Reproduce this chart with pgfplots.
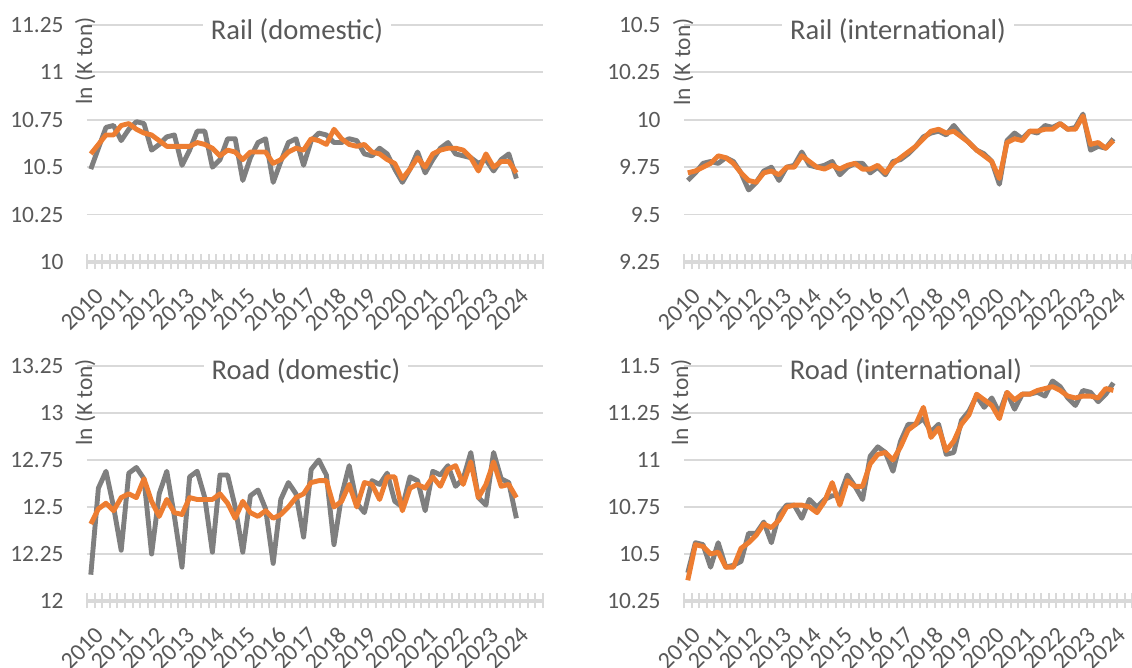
\documentclass[border=0pt]{standalone}
\usepackage{pgfplots}
\pgfplotsset{compat=1.18}
\usepackage{pgfplotstable}
\usepackage{fontspec}
\setmainfont{Carlito}
\definecolor{txt}{HTML}{595959}
\definecolor{gridc}{HTML}{D9D9D9}
\definecolor{greyl}{HTML}{7F7F7F}
\definecolor{orl}{HTML}{ED7D31}

% i = quarter index (0 = 2010Q1), o = original, s = seasonally adjusted
\pgfplotstableread{
i o s
0 10.49 10.57
1 10.60 10.62
2 10.71 10.67
3 10.72 10.67
4 10.64 10.72
5 10.70 10.73
6 10.74 10.70
7 10.73 10.68
8 10.59 10.67
9 10.62 10.64
10 10.66 10.61
11 10.67 10.61
12 10.51 10.61
13 10.59 10.61
14 10.69 10.63
15 10.69 10.62
16 10.50 10.60
17 10.54 10.56
18 10.65 10.59
19 10.65 10.58
20 10.43 10.54
21 10.55 10.58
22 10.63 10.58
23 10.65 10.58
24 10.42 10.52
25 10.53 10.54
26 10.63 10.58
27 10.65 10.60
28 10.51 10.59
29 10.64 10.65
30 10.68 10.64
31 10.67 10.62
32 10.63 10.70
33 10.63 10.65
34 10.65 10.62
35 10.64 10.61
36 10.57 10.62
37 10.56 10.58
38 10.60 10.57
39 10.57 10.54
40 10.49 10.52
41 10.42 10.44
42 10.49 10.49
43 10.58 10.55
44 10.47 10.50
45 10.54 10.57
46 10.60 10.59
47 10.63 10.60
48 10.57 10.60
49 10.56 10.59
50 10.55 10.55
51 10.52 10.48
52 10.54 10.57
53 10.48 10.50
54 10.54 10.53
55 10.57 10.53
56 10.44 10.47
}\RailDom

\pgfplotstableread{
i o s
0 9.68 9.72
1 9.72 9.73
2 9.77 9.75
3 9.78 9.77
4 9.77 9.81
5 9.80 9.80
6 9.78 9.77
7 9.72 9.72
8 9.63 9.68
9 9.67 9.67
10 9.73 9.72
11 9.75 9.73
12 9.68 9.71
13 9.75 9.75
14 9.76 9.75
15 9.83 9.81
16 9.76 9.78
17 9.75 9.75
18 9.76 9.74
19 9.78 9.76
20 9.71 9.74
21 9.75 9.76
22 9.77 9.77
23 9.77 9.74
24 9.72 9.74
25 9.75 9.76
26 9.71 9.72
27 9.78 9.77
28 9.79 9.80
29 9.82 9.83
30 9.86 9.86
31 9.91 9.90
32 9.93 9.94
33 9.94 9.95
34 9.92 9.93
35 9.97 9.94
36 9.92 9.91
37 9.88 9.88
38 9.84 9.84
39 9.82 9.81
40 9.78 9.78
41 9.66 9.69
42 9.89 9.88
43 9.93 9.90
44 9.90 9.89
45 9.94 9.94
46 9.93 9.94
47 9.97 9.95
48 9.96 9.95
49 9.98 9.98
50 9.95 9.95
51 9.96 9.95
52 10.03 10.02
53 9.84 9.87
54 9.86 9.88
55 9.85 9.85
56 9.90 9.89
}\RailInt

\pgfplotstableread{
i o s
0 12.14 12.41
1 12.60 12.49
2 12.69 12.52
3 12.50 12.48
4 12.27 12.55
5 12.68 12.57
6 12.71 12.55
7 12.65 12.65
8 12.25 12.53
9 12.57 12.45
10 12.69 12.54
11 12.45 12.47
12 12.18 12.46
13 12.66 12.55
14 12.69 12.54
15 12.55 12.54
16 12.26 12.54
17 12.67 12.57
18 12.67 12.52
19 12.50 12.44
20 12.26 12.53
21 12.56 12.47
22 12.59 12.45
23 12.49 12.48
24 12.20 12.44
25 12.54 12.46
26 12.63 12.50
27 12.57 12.55
28 12.34 12.57
29 12.70 12.63
30 12.75 12.64
31 12.67 12.64
32 12.30 12.50
33 12.56 12.53
34 12.72 12.62
35 12.52 12.50
36 12.47 12.63
37 12.64 12.62
38 12.62 12.54
39 12.68 12.66
40 12.53 12.66
41 12.50 12.48
42 12.66 12.60
43 12.64 12.62
44 12.48 12.60
45 12.69 12.66
46 12.67 12.61
47 12.72 12.70
48 12.61 12.72
49 12.65 12.62
50 12.79 12.74
51 12.55 12.55
52 12.51 12.62
53 12.79 12.74
54 12.65 12.61
55 12.63 12.62
56 12.44 12.55
}\RoadDom

\pgfplotstableread{
i o s
0 10.40 10.36
1 10.56 10.55
2 10.55 10.54
3 10.43 10.50
4 10.56 10.51
5 10.43 10.43
6 10.44 10.43
7 10.46 10.53
8 10.61 10.56
9 10.61 10.60
10 10.67 10.66
11 10.56 10.64
12 10.71 10.68
13 10.76 10.75
14 10.76 10.76
15 10.69 10.76
16 10.79 10.75
17 10.75 10.72
18 10.79 10.78
19 10.81 10.88
20 10.81 10.76
21 10.92 10.89
22 10.86 10.86
23 10.79 10.86
24 11.02 10.98
25 11.07 11.03
26 11.04 11.04
27 10.94 11.00
28 11.10 11.07
29 11.19 11.16
30 11.19 11.19
31 11.22 11.28
32 11.15 11.12
33 11.19 11.17
34 11.03 11.05
35 11.04 11.10
36 11.21 11.19
37 11.26 11.24
38 11.34 11.35
39 11.28 11.32
40 11.33 11.29
41 11.25 11.22
42 11.36 11.36
43 11.27 11.32
44 11.35 11.35
45 11.35 11.35
46 11.36 11.37
47 11.34 11.38
48 11.42 11.39
49 11.39 11.37
50 11.33 11.34
51 11.29 11.33
52 11.37 11.34
53 11.36 11.34
54 11.31 11.33
55 11.35 11.38
56 11.41 11.37
}\RoadInt

\pgfplotsset{
  panel/.style={
    scale only axis, width=228pt, anchor=south west,
    xmin=-0.5, xmax=59.5,
    axis x line*=bottom, axis y line*=left,
    x axis line style={draw=gridc, line width=2pt},
    y axis line style={draw=none},
    xtick={0,4,...,56},
    xticklabels={2010,2011,2012,2013,2014,2015,2016,2017,2018,2019,2020,2021,2022,2023,2024},
    major tick length=0pt,
    minor xtick={-0.5,0.5,...,59.5},
    minor tick length=7.5pt,
    tick align=center,
    minor tick style={draw=gridc, line width=1pt},
    ymajorgrids, grid style={draw=gridc, line width=0.9pt},
    ticklabel style={font=\fontsize{11.7pt}{14pt}\selectfont, text=txt},
    xticklabel style={font=\fontsize{12pt}{14pt}\selectfont},
    /pgf/number format/assume math mode=true,
    scaled y ticks=false,
    yticklabel style={anchor=east, inner sep=0pt, xshift=-11.5pt},
    xticklabel style={xshift=1.5pt, yshift=-12pt, rotate=45, anchor=north east, inner sep=0pt},
  },
  og/.style={greyl, line width=2.45pt, line join=round},
  sa/.style={orl, line width=2.45pt, line join=round},
}

\begin{document}
\begin{tikzpicture}
\useasboundingbox (0,0) rectangle (566pt,334pt);

\begin{axis}[panel, at={(43.5pt,203pt)}, height=118.5pt,
  ymin=10, ymax=11.25, ytick={10,10.25,...,11.25}]
\addplot[og] table[x=i,y=o]{\RailDom};
\addplot[sa] table[x=i,y=s]{\RailDom};
\end{axis}

\begin{axis}[panel, at={(342pt,203pt)}, height=118.5pt,
  ymin=9.25, ymax=10.5, ytick={9.25,9.5,...,10.5}]
\addplot[og] table[x=i,y=o]{\RailInt};
\addplot[sa] table[x=i,y=s]{\RailInt};
\end{axis}

\begin{axis}[panel, at={(43.5pt,33.5pt)}, height=117.5pt,
  ymin=12, ymax=13.25, ytick={12,12.25,...,13.25}]
\addplot[og] table[x=i,y=o]{\RoadDom};
\addplot[sa] table[x=i,y=s]{\RoadDom};
\end{axis}

\begin{axis}[panel, at={(342pt,33.5pt)}, height=117.5pt,
  ymin=10.25, ymax=11.5, ytick={10.25,10.5,...,11.5}]
\addplot[og] table[x=i,y=o]{\RoadInt};
\addplot[sa] table[x=i,y=s]{\RoadInt};
\end{axis}

\tikzset{ttl/.style={anchor=base, fill=white, inner xsep=4pt, text=txt, font=\fontsize{14.3pt}{17pt}\selectfont},
         yl/.style={anchor=base, rotate=90, text=txt, font=\fontsize{11.7pt}{14pt}\selectfont}}
\node[ttl] at (148.5pt,314pt) {Rail (domestic)};
\node[ttl] at (449pt,314pt) {Rail (international)};
\node[ttl] at (153pt,144.2pt) {Road (domestic)};
\node[ttl] at (453pt,144.2pt) {Road (international)};
\node[yl] at (46pt,303.5pt) {ln (K ton)};
\node[yl] at (345pt,303pt) {ln (K ton)};
\node[yl] at (46pt,132.75pt) {ln (K ton)};
\node[yl] at (344pt,132.75pt) {ln (K ton)};
\end{tikzpicture}
\end{document}
